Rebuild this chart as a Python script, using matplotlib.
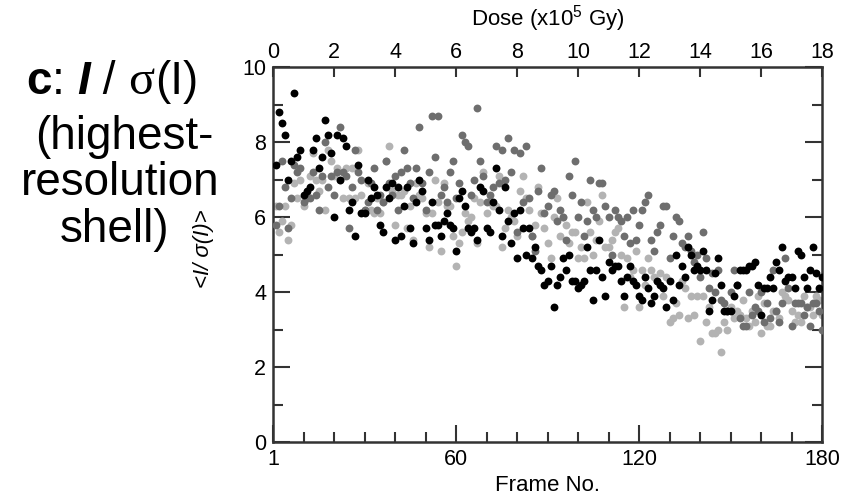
import numpy as np
import matplotlib
matplotlib.use("Agg")
import matplotlib.pyplot as plt
from matplotlib.ticker import MultipleLocator, FixedLocator
from matplotlib.offsetbox import TextArea, HPacker, AnnotationBbox

plt.rcParams['font.family'] = ['Liberation Sans', 'DejaVu Sans']
plt.rcParams['mathtext.fontset'] = 'custom'
plt.rcParams['mathtext.rm'] = 'Liberation Sans'

# frame numbers and <I/sigma(I)> for the three series
frames = np.arange(1, 181)

black = [7.4, 8.8, 8.5, 8.2, 7.0, 7.5, 9.3, 7.6, 7.8, 6.6,
         6.7, 6.8, 7.8, 8.1, 7.3, 7.6, 8.6, 8.2, 7.7, 6.0,
         8.2, 7.0, 8.1, 7.9, 6.2, 6.4, 5.5, 7.4, 6.1, 6.1,
         7.0, 6.5, 6.8, 6.6, 5.8, 5.6, 6.8, 6.5, 6.9, 5.4,
         6.8, 5.5, 6.3, 6.8, 5.7, 5.3, 6.4, 7.0, 6.7, 5.7,
         5.4, 6.4, 5.8, 5.8, 5.5, 5.9, 6.1, 5.8, 5.7, 5.1,
         6.5, 6.7, 6.3, 5.7, 5.6, 5.7, 5.4, 6.8, 6.7, 5.7,
         5.6, 6.4, 7.3, 6.2, 5.5, 6.8, 5.9, 5.3, 6.1, 4.9,
         6.2, 5.7, 5.0, 5.7, 4.9, 5.2, 4.7, 4.6, 4.2, 4.3,
         4.7, 3.6, 4.2, 4.4, 4.9, 4.6, 5.0, 4.3, 4.3, 4.1,
         4.2, 4.3, 5.2, 4.6, 3.8, 4.6, 5.4, 4.4, 3.9, 4.8,
         4.6, 4.7, 4.7, 4.3, 3.9, 4.4, 4.7, 4.3, 4.2, 3.9,
         3.8, 4.4, 4.1, 3.7, 3.9, 4.3, 4.2, 4.1, 3.6, 4.3,
         3.8, 5.0, 4.2, 4.7, 4.4, 5.2, 5.0, 4.6, 4.7, 4.6,
         5.1, 4.6, 3.5, 3.8, 4.5, 4.9, 4.2, 3.5, 3.5, 3.5,
         3.9, 4.2, 4.6, 4.6, 4.6, 4.7, 4.7, 4.8, 4.2, 3.4,
         4.1, 4.1, 4.4, 4.1, 4.8, 4.6, 5.2, 4.3, 4.4, 4.4,
         4.1, 5.1, 5.0, 4.4, 4.1, 4.6, 5.2, 4.5, 4.1, 4.4]

dark = [5.8, 6.3, 7.5, 6.8, 5.7, 6.5, 7.4, 7.2, 7.3, 6.4,
        6.5, 6.5, 7.2, 6.6, 6.2, 7.1, 8.0, 6.8, 7.1, 6.6,
        7.2, 8.4, 7.2, 7.1, 5.7, 6.8, 7.8, 7.2, 7.0, 6.2,
        6.4, 6.9, 7.3, 6.2, 6.6, 6.4, 7.5, 6.9, 6.6, 7.1,
        6.2, 7.2, 7.8, 7.3, 6.9, 6.5, 7.3, 8.4, 6.9, 6.2,
        7.2, 8.7, 7.6, 8.7, 6.6, 6.8, 6.4, 7.2, 7.5, 6.5,
        6.9, 8.2, 8.0, 7.9, 6.6, 7.0, 8.9, 7.5, 7.1, 6.4,
        6.6, 6.8, 7.9, 6.9, 7.8, 7.0, 8.1, 7.2, 7.8, 5.6,
        7.7, 6.4, 7.9, 6.5, 5.5, 5.1, 6.7, 7.3, 6.1, 6.3,
        6.6, 6.7, 5.9, 6.2, 6.0, 5.4, 7.1, 6.6, 7.5, 6.0,
        6.4, 5.5, 5.9, 7.0, 6.2, 6.0, 6.9, 6.9, 6.3, 6.0,
        5.0, 6.2, 6.0, 5.9, 5.5, 6.0, 5.3, 6.2, 5.4, 5.8,
        6.2, 6.4, 6.6, 5.4, 5.1, 5.6, 5.8, 6.3, 6.3, 4.9,
        5.5, 6.0, 5.9, 5.3, 5.2, 5.5, 5.1, 4.8, 5.0, 4.4,
        5.6, 4.9, 4.1, 4.5, 4.0, 4.6, 3.8, 3.7, 3.5, 4.0,
        4.6, 4.2, 3.3, 3.1, 3.1, 4.0, 3.4, 3.6, 3.5, 4.0,
        3.2, 3.7, 3.3, 4.6, 3.5, 3.2, 3.7, 4.9, 4.1, 3.1,
        3.7, 3.7, 3.7, 3.4, 3.6, 3.1, 3.7, 3.7, 3.5, 3.0]

light = [6.3, 5.6, 5.9, 6.3, 5.4, 5.8, 6.9, 6.5, 7.0, 6.3,
         6.6, 7.1, 7.7, 7.0, 6.7, 7.0, 6.2, 7.8, 7.5, 7.1,
         7.3, 7.0, 6.5, 7.3, 6.5, 7.3, 6.5, 7.8, 6.6, 6.2,
         6.9, 6.2, 6.1, 6.5, 6.1, 6.4, 7.5, 7.9, 6.7, 5.8,
         6.6, 6.6, 6.7, 5.7, 6.3, 5.4, 6.9, 6.6, 6.5, 6.1,
         5.2, 6.1, 7.0, 6.4, 5.1, 6.9, 6.3, 6.3, 5.5, 4.7,
         5.3, 5.6, 6.1, 5.9, 6.0, 6.5, 5.3, 6.4, 7.2, 6.1,
         6.4, 6.3, 6.3, 7.1, 5.2, 5.7, 6.2, 6.0, 5.9, 5.5,
         6.7, 7.1, 6.5, 6.2, 5.5, 5.8, 6.8, 6.1, 5.7, 5.3,
         4.9, 6.0, 6.5, 5.5, 6.0, 5.8, 5.3, 5.6, 5.6, 4.9,
         5.2, 4.9, 6.4, 5.6, 5.0, 5.4, 5.9, 6.6, 5.2, 5.2,
         5.4, 5.6, 5.7, 5.0, 3.6, 4.9, 4.4, 4.6, 5.1, 3.6,
         4.6, 4.2, 4.9, 4.6, 4.4, 4.3, 4.5, 3.9, 4.4, 3.2,
         3.3, 3.7, 3.4, 4.3, 4.1, 3.3, 3.9, 3.4, 3.9, 2.7,
         3.9, 3.2, 3.6, 2.9, 2.9, 3.0, 2.4, 3.2, 3.0, 3.6,
         3.3, 3.5, 3.4, 3.8, 3.3, 3.1, 3.5, 3.2, 3.9, 2.9,
         3.7, 3.1, 3.1, 3.5, 3.5, 3.3, 4.0, 3.9, 3.8, 3.5,
         3.2, 3.4, 3.2, 3.9, 3.6, 3.6, 3.4, 3.9, 3.8, 3.4]

frame_ticks = [0, 60, 120, 180]
frame_labels = ['1', '60', '120', '180']

spine_col = '#333333'

fig = plt.figure(figsize=(8.5, 4.98), dpi=100)
ax = fig.add_axes([0.3212, 0.1124, 0.6459, 0.753])

ax.scatter(frames, light, s=32, color='#b3b3b3', linewidths=0, zorder=2)
ax.scatter(frames, dark, s=32, color='#6e6e6e', linewidths=0, zorder=3)
ax.scatter(frames, black, s=32, color='black', linewidths=0, zorder=4)

ax.set_xlim(0, 180)
ax.set_ylim(0, 10)
ax.set_xticks(frame_ticks)
ax.set_xticklabels(frame_labels)
ax.xaxis.set_minor_locator(MultipleLocator(10))
ax.yaxis.set_major_locator(MultipleLocator(2))
ax.yaxis.set_minor_locator(MultipleLocator(1))
ax.tick_params(which='both', direction='in', color=spine_col, width=1.5,
               labelsize=15.5, left=True, right=True, top=False)
ax.tick_params(which='major', length=12, pad=5)
ax.tick_params(which='minor', length=7)
for s in ax.spines.values():
    s.set_color(spine_col)
    s.set_linewidth(1.8)

# dose axis on top (x10^5 Gy), 0.1 per frame
ax2 = ax.twiny()
ax2.set_xlim(0, 18)
ax2.xaxis.set_major_locator(MultipleLocator(2))
ax2.xaxis.set_minor_locator(FixedLocator([10]))
ax2.tick_params(which='both', direction='in', color=spine_col, width=1.5,
                labelsize=15.5, pad=3)
ax2.tick_params(which='major', length=7)
ax2.tick_params(which='minor', length=12)
for s in ax2.spines.values():
    s.set_visible(False)

fig.text(0.644, 0.962, 'Dose (x10$^{5}$ Gy)', ha='center', va='center', fontsize=16)
fig.text(0.644, 0.026, 'Frame No.', ha='center', va='center', fontsize=16)
fig.text(0.240, 0.50, '<I/ σ(I)>', ha='center', va='center', rotation=90,
         fontsize=16, style='italic')

# panel label on the left
big = 33
parts = [
    TextArea('c', textprops=dict(fontsize=big, fontweight='bold')),
    TextArea(': ', textprops=dict(fontsize=big)),
    TextArea('I', textprops=dict(fontsize=big, fontweight='bold', style='italic')),
    TextArea(' / ', textprops=dict(fontsize=big)),
    TextArea('σ', textprops=dict(fontsize=big + 2, family='Liberation Serif')),
    TextArea('(I)', textprops=dict(fontsize=big)),
]
line1 = HPacker(children=parts, align='baseline', pad=0, sep=0)
fig.add_artist(AnnotationBbox(line1, (0.132, 0.835), xycoords='figure fraction',
                              frameon=False, box_alignment=(0.5, 0.5)))
fig.text(0.146, 0.725, '(highest-', ha='center', va='center', fontsize=big)
fig.text(0.141, 0.632, 'resolution', ha='center', va='center', fontsize=big)
fig.text(0.135, 0.538, 'shell)', ha='center', va='center', fontsize=big)

fig.savefig('out.png', dpi=100)
